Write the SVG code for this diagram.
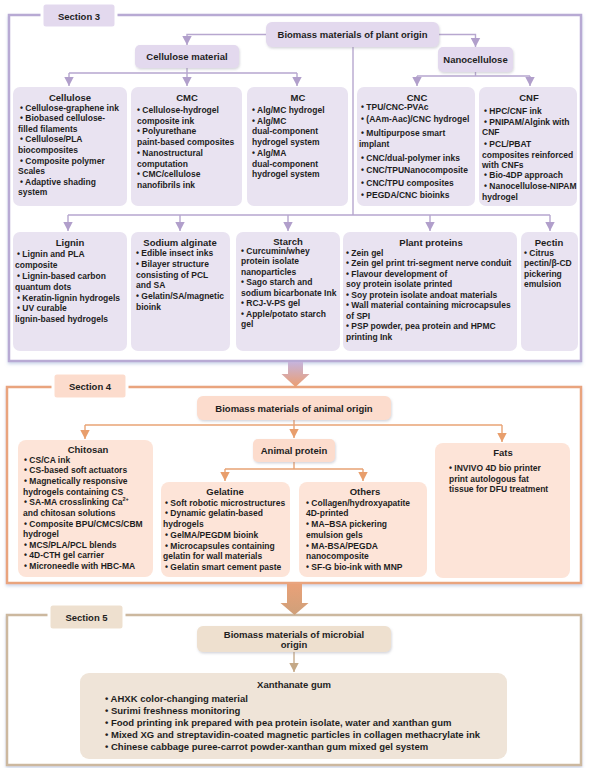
<svg xmlns="http://www.w3.org/2000/svg" width="589" height="768" viewBox="0 0 589 768">
<defs>
<style>
.t{font-family:"Liberation Sans",Arial,sans-serif;font-weight:bold;fill:#1e1e1e;dominant-baseline:central}
.h{font-size:9.5px;text-anchor:middle}
.b{font-size:8.5px}
.b5{font-size:9.5px}
.f3{fill:#fff;stroke:#b8aad4;stroke-width:2.5}
.f4{fill:#fff;stroke:#e9a47e;stroke-width:2.5}
.f5{fill:#fff;stroke:#ccb89f;stroke-width:2.5}
.p{fill:#e9e3f1}
.ph{fill:#e3d9ee}
.o{fill:#fde4d8}
.oh{fill:#fcdccd}
.m{fill:#efe4d8}
.mh{fill:#eee0cf}
.tabw{stroke:#fff;stroke-width:3}
.c3{fill:none;stroke:#b7a7cf;stroke-width:1.4}
.c4{fill:none;stroke:#e8a374;stroke-width:1.4}
.c5{fill:none;stroke:#c6ab8c;stroke-width:1.4}
</style>
<marker id="a3" markerUnits="userSpaceOnUse" markerWidth="10" markerHeight="10" viewBox="0 0 10 10" refX="9" refY="5" orient="auto"><path d="M0,0.3 L9,5 L0,9.7z" fill="#b19fcb"/></marker>
<marker id="a4" markerUnits="userSpaceOnUse" markerWidth="10" markerHeight="10" viewBox="0 0 10 10" refX="9" refY="5" orient="auto"><path d="M0,0.3 L9,5 L0,9.7z" fill="#e89e6c"/></marker>
<marker id="a5" markerUnits="userSpaceOnUse" markerWidth="10" markerHeight="10" viewBox="0 0 10 10" refX="9" refY="5" orient="auto"><path d="M0,0.3 L9,5 L0,9.7z" fill="#c4a886"/></marker>
<linearGradient id="g34" x1="0" y1="0" x2="0" y2="1"><stop offset="0" stop-color="#c6b4dc"/><stop offset="1" stop-color="#ec9e70"/></linearGradient>
<linearGradient id="g45" x1="0" y1="0" x2="0" y2="1"><stop offset="0" stop-color="#e9a178"/><stop offset="1" stop-color="#cfa07a"/></linearGradient>
<filter id="sh" x="-10%" y="-10%" width="120%" height="130%"><feDropShadow dx="0.8" dy="1.5" stdDeviation="1" flood-color="#8a8a9a" flood-opacity="0.35"/></filter>
<filter id="fs" x="-5%" y="-5%" width="110%" height="110%"><feDropShadow dx="0" dy="2" stdDeviation="1.5" flood-color="#9fb2d8" flood-opacity="0.5"/></filter>
</defs>

<!-- frames -->
<g id="frame3"><rect class="f3" x="9" y="15" width="572" height="346" filter="url(#fs)"/></g>
<g id="frame4"><rect class="f4" x="7" y="387" width="574" height="196" filter="url(#fs)"/></g>
<g id="frame5"><rect class="f5" x="7" y="615" width="574" height="150" filter="url(#fs)"/></g>

<!-- connectors -->
<g id="connectors">
<path class="c3" d="M266,34.5 H187 V45" marker-end="url(#a3)"/>
<path class="c3" d="M439,34.5 H475.5 V47" marker-end="url(#a3)"/>
<path class="c3" d="M187,68 V73 M69,73 H297"/>
<path class="c3" d="M69,73 V86" marker-end="url(#a3)"/>
<path class="c3" d="M187,73 V86" marker-end="url(#a3)"/>
<path class="c3" d="M297,73 V86" marker-end="url(#a3)"/>
<path class="c3" d="M475.5,72 V76 M417,76 H530"/>
<path class="c3" d="M417,76 V86" marker-end="url(#a3)"/>
<path class="c3" d="M530,76 V86" marker-end="url(#a3)"/>
<path class="c3" d="M353,47 V215 M68,215 H550"/>
<path class="c3" d="M68,215 V231" marker-end="url(#a3)"/>
<path class="c3" d="M180,215 V231" marker-end="url(#a3)"/>
<path class="c3" d="M288,215 V231" marker-end="url(#a3)"/>
<path class="c3" d="M430,215 V231" marker-end="url(#a3)"/>
<path class="c3" d="M550,215 V231" marker-end="url(#a3)"/>

<path class="c4" d="M294,420 V438" marker-end="url(#a4)"/>
<path class="c4" d="M85,425 H502"/>
<path class="c4" d="M85,425 V439" marker-end="url(#a4)"/>
<path class="c4" d="M502,425 V442" marker-end="url(#a4)"/>
<path class="c4" d="M294,462 V469 M225,469 H363"/>
<path class="c4" d="M225,469 V481" marker-end="url(#a4)"/>
<path class="c4" d="M363,469 V481" marker-end="url(#a4)"/>

<path class="c5" d="M294,652 V672" marker-end="url(#a5)"/>

<path d="M288,362 H303 V374 H309.5 L295.5,387 L281.5,374 H288 Z" fill="url(#g34)"/>
<path d="M287,584 H302 V603 H308.5 L294.5,615 L280.5,603 H287 Z" fill="url(#g45)"/>
</g>

<!-- Section 3 -->
<g id="sec3-tab"><rect class="ph tabw" x="42" y="3" width="74" height="25" rx="4"/><text class="t h" x="79" y="16">Section 3</text></g>
<g id="plant-origin"><rect class="ph" x="266" y="22" width="173" height="25" rx="6" filter="url(#sh)"/><text class="t h" x="352.5" y="34.5">Biomass materials of plant origin</text></g>
<g id="cellulose-material"><rect class="ph" x="135" y="45" width="104" height="23" rx="5" filter="url(#sh)"/><text class="t h" x="187" y="56.5">Cellulose material</text></g>
<g id="nanocellulose"><rect class="ph" x="438" y="47" width="75" height="25" rx="5" filter="url(#sh)"/><text class="t h" x="475.5" y="59.5">Nanocellulose</text></g>

<g id="cellulose"><rect class="p" x="13" y="87" width="114" height="119" rx="7"/>
<text class="t h" x="70" y="97">Cellulose</text>
<text class="t b" x="20" y="107.5">• Cellulose-graphene ink</text>
<text class="t b" x="20" y="118.1">• Biobased cellulose-</text>
<text class="t b" x="18" y="128.7">filled filaments</text>
<text class="t b" x="20" y="139.3">• Cellulose/PLA</text>
<text class="t b" x="18" y="149.9">biocomposites</text>
<text class="t b" x="20" y="160.5">• Composite polymer</text>
<text class="t b" x="18" y="171.1">Scales</text>
<text class="t b" x="20" y="181.7">• Adaptive shading</text>
<text class="t b" x="18" y="192.3">system</text>
</g>
<g id="cmc"><rect class="p" x="131" y="87" width="111" height="119" rx="7"/>
<text class="t h" x="187" y="97">CMC</text>
<text class="t b" x="137" y="110">• Cellulose-hydrogel</text>
<text class="t b" x="137" y="120.7">composite ink</text>
<text class="t b" x="137" y="131.4">• Polyurethane</text>
<text class="t b" x="137" y="142.1">paint-based composites</text>
<text class="t b" x="137" y="152.8">• Nanostructural</text>
<text class="t b" x="137" y="163.5">computation</text>
<text class="t b" x="137" y="174.2">• CMC/cellulose</text>
<text class="t b" x="137" y="184.9">nanofibrils ink</text>
</g>
<g id="mc"><rect class="p" x="247" y="87" width="101" height="119" rx="7"/>
<text class="t h" x="298" y="97">MC</text>
<text class="t b" x="252" y="110">• Alg/MC hydrogel</text>
<text class="t b" x="252" y="120.7">• Alg/MC</text>
<text class="t b" x="252" y="131.4">dual-component</text>
<text class="t b" x="252" y="142.1">hydrogel system</text>
<text class="t b" x="252" y="152.8">• Alg/MA</text>
<text class="t b" x="252" y="163.5">dual-component</text>
<text class="t b" x="252" y="174.2">hydrogel system</text>
</g>
<g id="cnc"><rect class="p" x="357" y="87" width="118" height="119" rx="7"/>
<text class="t h" x="417" y="97">CNC</text>
<text class="t b" x="361" y="107.3">• TPU/CNC-PVAc</text>
<text class="t b" x="361" y="118.7">• (AAm-Aac)/CNC hydrogel</text>
<text class="t b" x="361" y="133.3">• Multipurpose smart</text>
<text class="t b" x="359" y="144.3">implant</text>
<text class="t b" x="361" y="157.7">• CNC/dual-polymer inks</text>
<text class="t b" x="361" y="170">• CNC/TPUNanocomposite</text>
<text class="t b" x="361" y="182.7">• CNC/TPU composites</text>
<text class="t b" x="361" y="195">• PEGDA/CNC bioinks</text>
</g>
<g id="cnf"><rect class="p" x="479" y="87" width="98" height="119" rx="7"/>
<text class="t h" x="529" y="97">CNF</text>
<text class="t b" x="484" y="111">• HPC/CNF ink</text>
<text class="t b" x="484" y="121.7">• PNIPAM/Algink with</text>
<text class="t b" x="482" y="132.3">CNF</text>
<text class="t b" x="484" y="144.3">• PCL/PBAT</text>
<text class="t b" x="482" y="155">composites reinforced</text>
<text class="t b" x="482" y="165">with CNFs</text>
<text class="t b" x="484" y="175">• Bio-4DP approach</text>
<text class="t b" x="484" y="185.7">• Nanocellulose-NIPAM</text>
<text class="t b" x="482" y="196.7">hydrogel</text>
</g>

<g id="lignin"><rect class="p" x="13" y="232" width="114" height="119" rx="7"/>
<text class="t h" x="70" y="242">Lignin</text>
<text class="t b" x="17" y="254.3">• Lignin and PLA</text>
<text class="t b" x="15" y="265.1">composite</text>
<text class="t b" x="17" y="275.9">• Lignin-based carbon</text>
<text class="t b" x="15" y="286.7">quantum dots</text>
<text class="t b" x="17" y="297.5">• Keratin-lignin hydrogels</text>
<text class="t b" x="17" y="308.3">• UV curable</text>
<text class="t b" x="15" y="319.1">lignin-based hydrogels</text>
</g>
<g id="sodium-alginate"><rect class="p" x="131" y="232" width="99" height="119" rx="7"/>
<text class="t h" x="180" y="242">Sodium alginate</text>
<text class="t b" x="136" y="253.3">• Edible insect inks</text>
<text class="t b" x="136" y="264">• Bilayer structure</text>
<text class="t b" x="136" y="274.7">consisting of PCL</text>
<text class="t b" x="136" y="285.4">and SA</text>
<text class="t b" x="136" y="296.1">• Gelatin/SA/magnetic</text>
<text class="t b" x="136" y="306.8">bioink</text>
</g>
<g id="starch"><rect class="p" x="236" y="232" width="104" height="119" rx="7"/>
<text class="t h" x="288" y="241">Starch</text>
<text class="t b" x="241" y="250.5">• Curcumin/whey</text>
<text class="t b" x="241" y="261">protein isolate</text>
<text class="t b" x="241" y="271.5">nanoparticles</text>
<text class="t b" x="241" y="282">• Sago starch and</text>
<text class="t b" x="241" y="292.5">sodium bicarbonate Ink</text>
<text class="t b" x="241" y="303">• RCJ-V-PS gel</text>
<text class="t b" x="241" y="313.5">• Apple/potato starch</text>
<text class="t b" x="241" y="324">gel</text>
</g>
<g id="plant-proteins"><rect class="p" x="343" y="232" width="174" height="119" rx="7"/>
<text class="t h" x="431" y="242">Plant proteins</text>
<text class="t b" x="346" y="252.5">• Zein gel</text>
<text class="t b" x="346" y="263">• Zein gel print tri-segment nerve conduit</text>
<text class="t b" x="346" y="273.5">• Flavour development of</text>
<text class="t b" x="346" y="284">soy protein isolate printed</text>
<text class="t b" x="346" y="294.5">• Soy protein isolate andoat materials</text>
<text class="t b" x="346" y="305">• Wall material containing microcapsules</text>
<text class="t b" x="346" y="315.5">of SPI</text>
<text class="t b" x="346" y="326">• PSP powder, pea protein and HPMC</text>
<text class="t b" x="346" y="336.5">printing Ink</text>
</g>
<g id="pectin"><rect class="p" x="521" y="232" width="57" height="119" rx="7"/>
<text class="t h" x="549" y="242">Pectin</text>
<text class="t b" x="524" y="252.5">• Citrus</text>
<text class="t b" x="524" y="263">pectin/β-CD</text>
<text class="t b" x="524" y="273.5">pickering</text>
<text class="t b" x="524" y="284">emulsion</text>
</g>

<!-- Section 4 -->
<g id="sec4-tab"><rect class="oh tabw" x="53" y="373" width="74" height="26" rx="4"/><text class="t h" x="90" y="386">Section 4</text></g>
<g id="animal-origin"><rect class="oh" x="197" y="396" width="194" height="24" rx="6" filter="url(#sh)"/><text class="t h" x="294" y="408">Biomass materials of animal origin</text></g>
<g id="animal-protein"><rect class="oh" x="253" y="439" width="82" height="23" rx="5" filter="url(#sh)"/><text class="t h" x="294" y="450.5">Animal protein</text></g>
<g id="chitosan"><rect class="o" x="18" y="440" width="135" height="137" rx="8"/>
<text class="t h" x="88" y="449.5">Chitosan</text>
<text class="t b" x="24" y="459.5">• CS/CA ink</text>
<text class="t b" x="24" y="470.1">• CS-based soft actuators</text>
<text class="t b" x="24" y="480.8">• Magnetically responsive</text>
<text class="t b" x="23" y="491.5">hydrogels containing CS</text>
<text class="t b" x="24" y="502.2">• SA-MA crosslinking  Ca<tspan font-size="5.5" baseline-shift="super">2+</tspan></text>
<text class="t b" x="23" y="512.9">and chitosan solutions</text>
<text class="t b" x="24" y="523.5">• Composite BPU/CMCS/CBM</text>
<text class="t b" x="23" y="534">hydrogel</text>
<text class="t b" x="24" y="544.5">• MCS/PLA/PCL blends</text>
<text class="t b" x="24" y="555">• 4D-CTH gel carrier</text>
<text class="t b" x="24" y="565.7">• Microneedle with HBC-MA</text>
</g>
<g id="gelatine"><rect class="o" x="161" y="482" width="129" height="95" rx="8"/>
<text class="t h" x="225" y="491.5">Gelatine</text>
<text class="t b" x="165" y="502.7">• Soft robotic microstructures</text>
<text class="t b" x="165" y="513.4">• Dynamic gelatin-based</text>
<text class="t b" x="163" y="524.1">hydrogels</text>
<text class="t b" x="165" y="534.8">• GelMA/PEGDM bioink</text>
<text class="t b" x="165" y="545.5">• Microcapsules containing</text>
<text class="t b" x="163" y="556.2">gelatin for wall materials</text>
<text class="t b" x="165" y="566.8">• Gelatin smart cement paste</text>
</g>
<g id="others"><rect class="o" x="299" y="482" width="128" height="95" rx="8"/>
<text class="t h" x="365" y="491.5">Others</text>
<text class="t b" x="306" y="502.7">• Collagen/hydroxyapatite</text>
<text class="t b" x="306" y="513.4">4D-printed</text>
<text class="t b" x="306" y="524.1">• MA–BSA pickering</text>
<text class="t b" x="306" y="534.8">emulsion gels</text>
<text class="t b" x="306" y="545.5">• MA-BSA/PEGDA</text>
<text class="t b" x="306" y="556.2">nanocomposite</text>
<text class="t b" x="306" y="566.8">• SF-G bio-ink with MNP</text>
</g>
<g id="fats"><rect class="o" x="435" y="443" width="135" height="135" rx="8"/>
<text class="t h" x="503" y="452.7">Fats</text>
<text class="t b" x="449" y="467.7">• INVIVO 4D bio printer</text>
<text class="t b" x="449" y="478.5">print autologous fat</text>
<text class="t b" x="449" y="489.3">tissue for DFU treatment</text>
</g>

<!-- Section 5 -->
<g id="sec5-tab"><rect class="mh tabw" x="49" y="604" width="75" height="26" rx="4"/><text class="t h" x="86.5" y="617">Section 5</text></g>
<g id="microbial-origin"><rect class="mh" x="197" y="626" width="194" height="26" rx="6" filter="url(#sh)"/>
<text class="t h" x="294" y="634">Biomass materials of microbial</text>
<text class="t h" x="294" y="644.5">origin</text></g>
<g id="xanthanate"><rect class="m" x="80" y="673" width="427" height="86" rx="9"/>
<text class="t h" x="294" y="684">Xanthanate gum</text>
<text class="t b5" x="105" y="698">• AHXK color-changing material</text>
<text class="t b5" x="105" y="710.2">• Surimi freshness monitoring</text>
<text class="t b5" x="105" y="722.4">• Food printing ink prepared with pea protein isolate, water and xanthan gum</text>
<text class="t b5" x="105" y="734.6">• Mixed XG and streptavidin-coated magnetic particles in collagen methacrylate ink</text>
<text class="t b5" x="105" y="746.8">• Chinese cabbage puree-carrot powder-xanthan gum mixed gel system</text>
</g>
</svg>
